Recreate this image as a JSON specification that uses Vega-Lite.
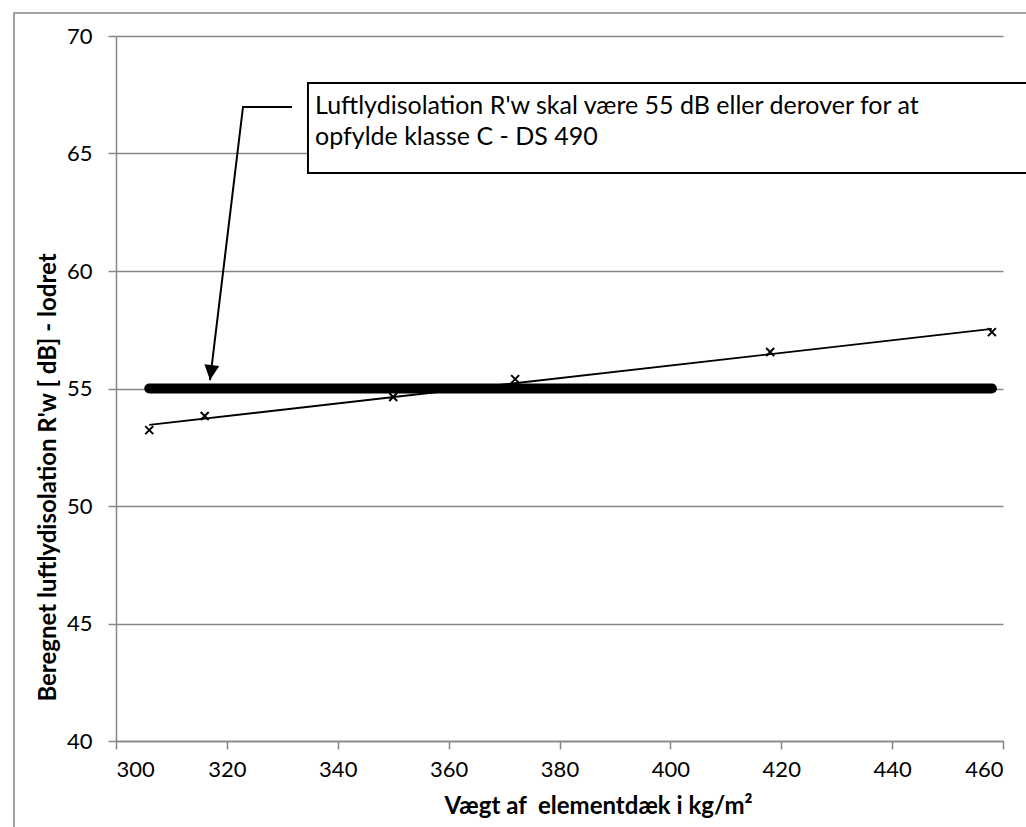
{
  "$schema": "https://vega.github.io/schema/vega-lite/v6.json",
  "autosize": {"type": "none"},
  "padding": {"left": 116, "top": 36, "right": 23, "bottom": 86},
  "width": 887,
  "height": 705,
  "background": "white",
  "config": {
    "view": {"stroke": null},
    "font": "Lato",
    "axis": {
      "labelFont": "Lato",
      "labelFontSize": 22,
      "labelColor": "#000000",
      "titleFont": "Lato",
      "titleFontWeight": "bold",
      "titleFontSize": 24,
      "titleColor": "#000000",
      "domainColor": "#868686",
      "domainWidth": 1.5,
      "tickColor": "#868686",
      "tickWidth": 1.5,
      "tickSize": 8,
      "gridColor": "#868686",
      "gridWidth": 1.5
    }
  },
  "datasets": {
    "measured": [
      {"x": 306, "y": 53.23},
      {"x": 316, "y": 53.83},
      {"x": 350, "y": 54.64},
      {"x": 372, "y": 55.4},
      {"x": 418, "y": 56.55},
      {"x": 458, "y": 57.4}
    ],
    "trend": [
      {"x": 306, "y": 53.45},
      {"x": 458, "y": 57.54}
    ],
    "requirement": [
      {"x": 306, "x2": 458, "y": 55}
    ],
    "frame": [
      {"x": 281.6, "x2": 470, "y": 70.98, "y2": 35}
    ],
    "notebox": [
      {"x": 334.63, "x2": 470, "y": 68.0, "y2": 64.17}
    ],
    "notetext": [
      {"x": 335.9, "y": 66.68, "t": "Luftlydisolation R'w skal være 55 dB eller derover for at"},
      {"x": 335.9, "y": 65.36, "t": "opfylde klasse C - DS 490"}
    ],
    "leader": [
      {"i": 1, "x": 331.75, "y": 66.98},
      {"i": 2, "x": 322.91, "y": 66.98},
      {"i": 3, "x": 316.96, "y": 55.36}
    ],
    "arrowhead": [
      {"x": 317.12, "y": 55.68}
    ]
  },
  "layer": [
    {
      "data": {"name": "trend"},
      "mark": {"type": "line", "color": "#000000", "strokeWidth": 1.8},
      "encoding": {
        "x": {
          "field": "x",
          "type": "quantitative",
          "scale": {"domain": [300, 460], "nice": false, "zero": false},
          "axis": {
            "values": [300, 320, 340, 360, 380, 400, 420, 440, 460],
            "grid": false,
            "labelPadding": 10,
            "title": "Vægt af \u00a0elementdæk i kg/m²",
            "titleX": 482,
            "titleY": 72,
            "titleAlign": "center",
            "titleBaseline": "alphabetic",
            "titleAnchor": null
          }
        },
        "y": {
          "field": "y",
          "type": "quantitative",
          "scale": {"domain": [40, 70], "nice": false, "zero": false},
          "axis": {
            "values": [40, 45, 50, 55, 60, 65, 70],
            "grid": true,
            "labelPadding": 16,
            "title": "Beregnet luftlydisolation R'w [ dB] - lodret",
            "titleX": -61,
            "titleY": 441,
            "titleAngle": -90,
            "titleAlign": "center",
            "titleBaseline": "alphabetic",
            "titleAnchor": null
          }
        }
      }
    },
    {
      "data": {"name": "frame"},
      "mark": {"type": "rect", "fillOpacity": 0, "stroke": "#868686", "strokeWidth": 1.5, "clip": false},
      "encoding": {
        "x": {"field": "x", "type": "quantitative"},
        "x2": {"field": "x2"},
        "y": {"field": "y", "type": "quantitative"},
        "y2": {"field": "y2"}
      }
    },
    {
      "data": {"name": "measured"},
      "mark": {
        "type": "point",
        "shape": "M-1,-1L1,1M-1,1L1,-1",
        "size": 64,
        "filled": false,
        "stroke": "#000000",
        "strokeWidth": 2,
        "opacity": 1
      },
      "encoding": {
        "x": {"field": "x", "type": "quantitative"},
        "y": {"field": "y", "type": "quantitative"}
      }
    },
    {
      "data": {"name": "requirement"},
      "mark": {"type": "rule", "color": "#000000", "strokeWidth": 10, "strokeCap": "round"},
      "encoding": {
        "x": {"field": "x", "type": "quantitative"},
        "x2": {"field": "x2"},
        "y": {"field": "y", "type": "quantitative"}
      }
    },
    {
      "data": {"name": "leader"},
      "mark": {"type": "line", "color": "#000000", "strokeWidth": 2, "clip": false},
      "encoding": {
        "x": {"field": "x", "type": "quantitative"},
        "y": {"field": "y", "type": "quantitative"},
        "order": {"field": "i", "type": "quantitative"}
      }
    },
    {
      "data": {"name": "arrowhead"},
      "mark": {
        "type": "point",
        "shape": "M-1,-1L1,-1L0,1Z",
        "size": 225,
        "filled": true,
        "color": "#000000",
        "opacity": 1,
        "angle": 7
      },
      "encoding": {
        "x": {"field": "x", "type": "quantitative"},
        "y": {"field": "y", "type": "quantitative"}
      }
    },
    {
      "data": {"name": "notebox"},
      "mark": {"type": "rect", "fill": "#ffffff", "stroke": "#000000", "strokeWidth": 2, "clip": false},
      "encoding": {
        "x": {"field": "x", "type": "quantitative"},
        "x2": {"field": "x2"},
        "y": {"field": "y", "type": "quantitative"},
        "y2": {"field": "y2"}
      }
    },
    {
      "data": {"name": "notetext"},
      "mark": {
        "type": "text",
        "align": "left",
        "baseline": "alphabetic",
        "font": "Lato",
        "fontSize": 25,
        "color": "#000000",
        "clip": false
      },
      "encoding": {
        "x": {"field": "x", "type": "quantitative"},
        "y": {"field": "y", "type": "quantitative"},
        "text": {"field": "t"}
      }
    }
  ]
}
